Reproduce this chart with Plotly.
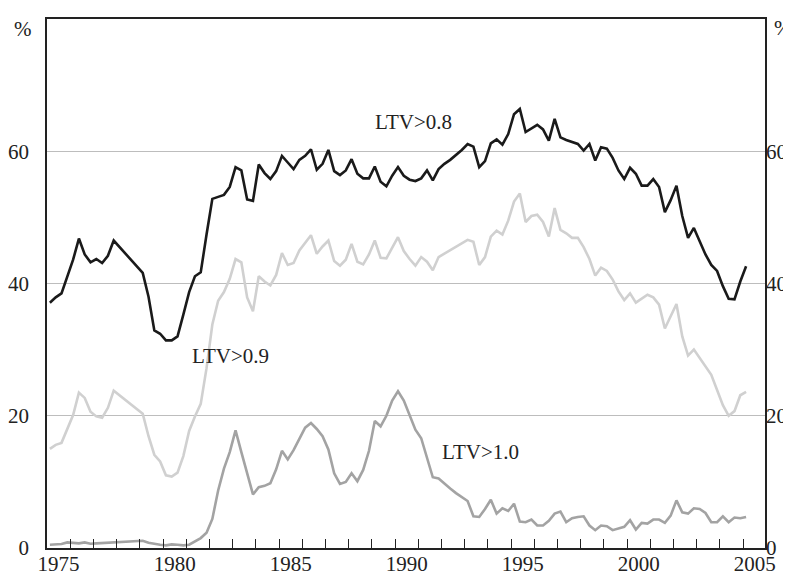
import plotly.graph_objects as go

# Quarterly observations, 1975Q1 .. 2005Q1 (1978 not available)
years = list(range(1975, 2006))
periods = [f"{y}Q{q}" for y in range(1975, 2006) for q in range(1, 5)][:121]

ltv_08 = [37.1, 37.9, 38.5, 41.1, 43.6, 46.8, 44.4, 43.2, 43.7, 43.1, 44.2, 46.5,
          None, None, None, None,
          41.6, 38.0, 32.9, 32.4, 31.4, 31.4, 32.0, 35.3, 38.7, 41.1, 41.7, 47.4,
          52.8, 53.1, 53.4, 54.6, 57.6, 57.1, 52.7, 52.5, 58.0, 56.7, 55.8, 57.0,
          59.3, 58.3, 57.3, 58.7, 59.3, 60.3, 57.2, 58.1, 60.2, 57.0, 56.4, 57.1,
          58.8, 56.6, 55.9, 55.9, 57.7, 55.4, 54.7, 56.3, 57.6, 56.3, 55.7, 55.5,
          55.9, 57.1, 55.6, 57.3, 58.1, 58.7, 59.4, 60.2, 61.1, 60.7, 57.6, 58.5,
          61.2, 61.8, 61.0, 62.6, 65.6, 66.4, 62.9, 63.4, 64.0, 63.3, 61.6, 64.9,
          62.1, 61.7, 61.4, 61.1, 60.1, 61.1, 58.6, 60.6, 60.4, 59.0, 57.1, 55.8,
          57.5, 56.6, 54.8, 54.8, 55.8, 54.6, 50.8, 52.6, 54.8, 50.2, 46.9, 48.4,
          46.4, 44.4, 42.8, 41.9, 39.6, 37.7, 37.6, 40.3, 42.6]

ltv_09 = [15.0, 15.6, 15.9, 18.1, 20.1, 23.5, 22.7, 20.6, 19.9, 19.7, 21.2, 23.8,
          None, None, None, None,
          20.3, 16.9, 14.1, 13.1, 11.0, 10.8, 11.4, 13.9, 17.7, 19.9, 21.8, 27.2,
          33.8, 37.4, 38.7, 40.7, 43.7, 43.2, 37.9, 35.8, 41.1, 40.3, 39.7, 41.3,
          44.6, 42.8, 43.1, 45.0, 46.1, 47.3, 44.5, 45.6, 46.5, 43.4, 42.7, 43.6,
          46.0, 43.3, 42.9, 44.4, 46.5, 43.9, 43.8, 45.4, 47.0, 44.9, 43.7, 42.7,
          44.0, 43.3, 42.0, 44.0, 44.5, 45.0, 45.5, 46.0, 46.6, 46.3, 42.8, 44.0,
          47.1, 48.0, 47.4, 49.5, 52.4, 53.6, 49.3, 50.2, 50.4, 49.3, 47.1, 51.4,
          48.1, 47.6, 46.9, 46.9, 45.5, 43.7, 41.2, 42.4, 41.9, 40.6, 38.8, 37.5,
          38.5, 37.1, 37.7, 38.3, 37.9, 36.8, 33.2, 35.0, 36.9, 32.0, 29.1, 30.0,
          28.7, 27.6, 26.2, 23.9, 21.6, 20.0, 20.7, 23.1, 23.6]

ltv_10 = [0.5, 0.6, 0.6, 0.85, 0.75, 0.7, 0.85, 0.65, 0.7, 0.75, 0.9, 0.85,
          None, None, None, None,
          1.1, 0.8, 0.6, 0.5, 0.4, 0.55, 0.5, 0.4, 0.5, 1.0, 1.5, 2.3,
          4.4, 8.7, 12.0, 14.5, 17.8, 14.5, 11.2, 8.1, 9.2, 9.4, 9.8, 11.9,
          14.7, 13.4, 14.8, 16.6, 18.2, 18.9, 18.0, 16.9, 14.9, 11.3, 9.7, 10.0,
          11.3, 10.1, 11.8, 14.7, 19.2, 18.4, 20.0, 22.3, 23.7, 22.3, 20.0, 17.9,
          16.6, 13.5, 10.7, 10.5, 9.7, 9.0, 8.3, 7.7, 7.1, 4.8, 4.7, 5.9,
          7.3, 5.2, 6.0, 5.6, 6.7, 4.0, 3.9, 4.3, 3.4, 3.4, 4.1, 5.2,
          5.5, 3.9, 4.5, 4.7, 4.8, 3.4, 2.7, 3.4, 3.3, 2.7, 3.0, 3.2,
          4.2, 2.8, 3.8, 3.7, 4.3, 4.3, 3.8, 4.9, 7.2, 5.4, 5.2, 6.0,
          5.9, 5.3, 3.9, 3.9, 4.8, 3.9, 4.6, 4.5, 4.7]

y_ticks = [0, 20, 40, 60]
label_years = [1975, 1980, 1985, 1990, 1995, 2000, 2005]


def period_to_x(p):
    y, q = p.split("Q")
    return int(y) + (int(q) - 0.5) / 4.0


x = [period_to_x(p) for p in periods]

FONT = "Liberation Serif, Times New Roman, serif"
TXT = "#222222"
FS = 21
XR = [1975, 2005.94]

fig = go.Figure()
fig.add_trace(go.Scatter(x=x, y=ltv_10, mode="lines", name="LTV>1.0",
                         line=dict(color="#a3a3a3", width=2.6), connectgaps=True))
fig.add_trace(go.Scatter(x=x, y=ltv_09, mode="lines", name="LTV>0.9",
                         line=dict(color="#d0d0d0", width=2.6), connectgaps=True,
                         xaxis="x2"))
fig.add_trace(go.Scatter(x=x, y=ltv_08, mode="lines", name="LTV>0.8",
                         line=dict(color="#1a1a1a", width=2.6), connectgaps=True,
                         yaxis="y2"))

fig.update_layout(
    width=791, height=576,
    margin=dict(l=39, r=34, t=11, b=36, autoexpand=False),
    paper_bgcolor="white", plot_bgcolor="white",
    showlegend=False,
    font=dict(family=FONT, size=FS, color=TXT),
    xaxis=dict(
        range=XR, automargin=False,
        tickmode="array",
        tickvals=[yy + 0.5 for yy in label_years],
        ticktext=[str(yy) for yy in label_years],
        ticks="", showgrid=False, zeroline=False,
        showline=True, mirror=True, linecolor=TXT, linewidth=1.5,
        ticklabelstandoff=-4,
        tickfont=dict(family=FONT, size=FS, color=TXT),
    ),
    xaxis2=dict(
        range=XR, automargin=False, overlaying="x", anchor="y", side="bottom",
        tickmode="array", tickvals=years[1:],
        ticks="inside", ticklen=9, tickwidth=1, tickcolor=TXT,
        showticklabels=False, showgrid=False, zeroline=False, showline=False,
    ),
    yaxis=dict(
        range=[0, 80], automargin=False, tickmode="array", tickvals=y_ticks,
        ticks="", showgrid=True, gridcolor="#bdbdbd", gridwidth=1,
        zeroline=False, showline=True, mirror=True, linecolor=TXT, linewidth=1.5,
        ticklabelstandoff=12,
        tickfont=dict(family=FONT, size=FS, color=TXT),
    ),
    yaxis2=dict(
        range=[0, 80], automargin=False, tickmode="array", tickvals=y_ticks,
        overlaying="y", side="right", anchor="x",
        ticks="", showgrid=False, zeroline=False, showline=False,
        ticklabelstandoff=0,
        tickfont=dict(family=FONT, size=FS, color=TXT),
    ),
    annotations=[
        dict(x=1989.05, y=64.4, text="LTV>0.8", showarrow=False, xanchor="left",
             yanchor="middle", font=dict(family=FONT, size=FS, color=TXT)),
        dict(x=1982.9, y=29.0, text="LTV>0.9", showarrow=False, xanchor="center",
             yanchor="middle", font=dict(family=FONT, size=FS, color=TXT)),
        dict(x=1993.7, y=14.5, text="LTV>1.0", showarrow=False, xanchor="center",
             yanchor="middle", font=dict(family=FONT, size=FS, color=TXT)),
        dict(xref="paper", yref="paper", x=-0.034, y=0.981, text="%",
             showarrow=False, xanchor="center", yanchor="middle",
             font=dict(family=FONT, size=FS, color=TXT)),
        dict(xref="paper", yref="paper", x=1.0245, y=0.983, text="%",
             showarrow=False, xanchor="center", yanchor="middle",
             font=dict(family=FONT, size=FS, color=TXT)),
    ],
)

fig.write_html("out.html")
